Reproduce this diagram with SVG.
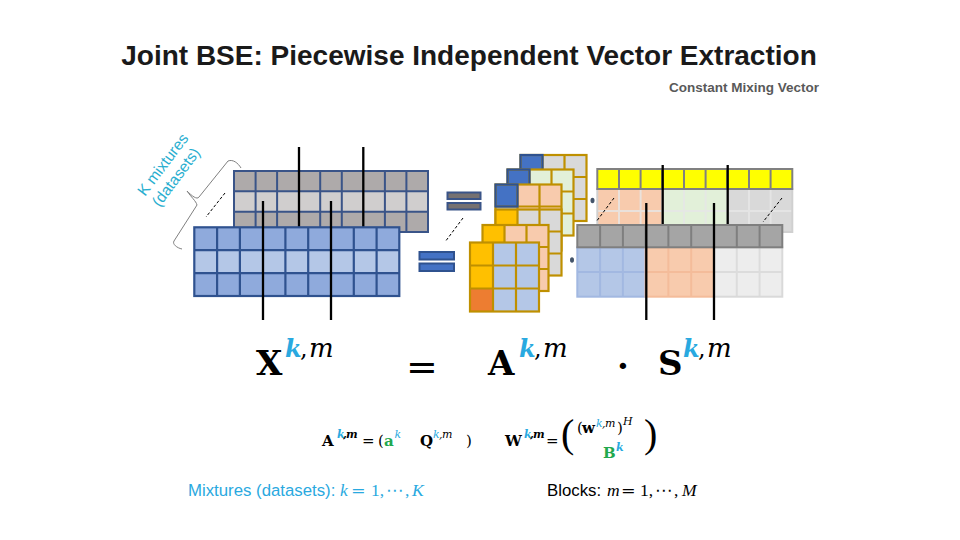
<svg xmlns="http://www.w3.org/2000/svg" xmlns:xlink="http://www.w3.org/1999/xlink" width="960" height="540" viewBox="0 0 960 540">
<defs>
<style>
.sans{font-family:"Liberation Sans",Arial,sans-serif}
.ser{font-family:"DejaVu Serif","Liberation Serif",serif}
.lser{font-family:"Liberation Serif","Times New Roman",serif}
.gold{fill:none;stroke:#BF9000;stroke-width:2.2}
.navy{fill:none;stroke:#3A5488;stroke-width:2}
.bnav{fill:none;stroke:#2F528F;stroke-width:2.2}
.pline{stroke:#000;stroke-width:2.3;fill:none}
.dash{stroke:#000;stroke-width:1;stroke-dasharray:3 2;fill:none}
.cy{fill:#29A9E0}
.gr{fill:#22A84E}
</style>
<g id="g3"><path d="M22,0V66M44,0V66M0,22H66M0,44H66" class="gold"/><rect width="66" height="66" class="gold"/></g>
<g id="g3f"><path d="M23,0V69M46,0V69M0,23H69M0,46H69" class="gold"/><rect width="69" height="69" class="gold"/></g>
</defs>
<rect width="960" height="540" fill="#fff"/>

<g id="title">
<text x="469" y="65" class="sans" font-size="28" font-weight="bold" fill="#1a1a1a" text-anchor="middle">Joint BSE: Piecewise Independent Vector Extraction</text>
<text x="819" y="92" class="sans" font-size="13.5" font-weight="bold" fill="#595959" text-anchor="end">Constant Mixing Vector</text>
</g>

<g id="k-label">
<path d="M241,168 C238,163 233,159 228,161 L199,197 C197,200 192,196 187,191 C191,197 196,201 197,205 L174,241 C172,244 177,248 182,249" fill="none" stroke="#808080" stroke-width="1"/>
<g transform="translate(145,197) rotate(-53)" class="sans" font-size="15.5" fill="#29AECF">
<text x="0" y="0">K mixtures</text>
<text x="0" y="18">(datasets)</text>
</g>
<path d="M225,193 L206,217" class="dash"/>
</g>

<g id="x-back">
<rect x="234" y="171" width="194" height="20.3" fill="#AEAAAA"/>
<rect x="234" y="191.3" width="194" height="20.4" fill="#D0CECE"/>
<rect x="234" y="211.7" width="194" height="20.3" fill="#AEAAAA"/>
<path d="M255.6,171V232M277.1,171V232M320.2,171V232M341.8,171V232M384.9,171V232M406.4,171V232M234,191.3H428M234,211.7H428" class="navy"/>
<rect x="234" y="171" width="194" height="61" class="navy"/>
</g>
<g id="x-back-lines">
<path d="M299,147V227M363.3,147V227" class="pline"/>
</g>

<g id="x-front">
<rect x="194.3" y="227.3" width="205" height="22.9" fill="#8FAADC"/>
<rect x="194.3" y="250.2" width="205" height="22.9" fill="#B4C7E7"/>
<rect x="194.3" y="273.1" width="205" height="22.9" fill="#8FAADC"/>
<path d="M217.1,227.3V296M239.9,227.3V296M285.4,227.3V296M308.2,227.3V296M353.8,227.3V296M376.6,227.3V296M194.3,250.2H399.3M194.3,273.1H399.3" class="bnav"/>
<rect x="194.3" y="227.3" width="205" height="68.7" class="bnav"/>
</g>
<g id="x-front-lines">
<path d="M263,201V320M331,201V320" class="pline"/>
</g>

<g id="eq-sign">
<rect x="447.5" y="192.5" width="33" height="6.5" fill="#767171" stroke="#3A5488" stroke-width="2"/>
<rect x="447.5" y="203" width="33" height="6.5" fill="#767171" stroke="#3A5488" stroke-width="2"/>
<path d="M463,218 L445,242" class="dash"/>
<rect x="419.5" y="252" width="34.5" height="7.5" fill="#4472C4" stroke="#2F528F" stroke-width="2"/>
<rect x="419.5" y="263.5" width="34.5" height="7.5" fill="#4472C4" stroke="#2F528F" stroke-width="2"/>
</g>

<g id="mix-a" transform="translate(520.5,155)">
<rect width="66" height="66" fill="#D9D9D9"/><rect width="22" height="22" fill="#4472C4"/><use xlink:href="#g3"/><rect width="22" height="22" class="bnav"/>
</g>
<g id="mix-b" transform="translate(507.5,169.5)">
<rect width="66" height="66" fill="#E2F0D9"/><rect width="22" height="22" fill="#4472C4"/><use xlink:href="#g3"/><rect width="22" height="22" class="bnav"/>
</g>
<g id="mix-c" transform="translate(495.5,184.5)">
<rect width="66" height="66" fill="#F8CBAD"/><rect y="22" width="22" height="44" fill="#B4C7E7"/><rect width="22" height="22" fill="#4472C4"/><use xlink:href="#g3"/><rect width="22" height="22" class="bnav"/>
</g>
<g id="mix-d" transform="translate(495.5,209.5)">
<rect width="66" height="66" fill="#D9D9D9"/><rect width="22" height="22" fill="#FFC000"/><use xlink:href="#g3"/>
</g>
<g id="mix-e" transform="translate(482.5,225)">
<rect width="66" height="66" fill="#F8CBAD"/><rect width="22" height="22" fill="#FFC000"/><use xlink:href="#g3"/>
</g>
<g id="mix-f" transform="translate(470,242.5)">
<rect width="69" height="69" fill="#B4C7E7"/><rect width="23" height="46" fill="#FFC000"/><rect y="46" width="23" height="23" fill="#ED7D31"/><use xlink:href="#g3f"/>
</g>

<g id="dots" fill="#44546A">
<ellipse cx="592.5" cy="200.5" rx="2" ry="2.8"/>
<ellipse cx="572" cy="260" rx="2" ry="2.8"/>
</g>

<g id="s-back">
<rect x="597.3" y="189" width="65" height="43" fill="#F8CBAD"/>
<rect x="662.3" y="189" width="65" height="43" fill="#E2F0D9"/>
<rect x="727.3" y="189" width="65" height="43" fill="#D9D9D9"/>
<path d="M619,189V232M640.6,189V232M662.3,189V232M684,189V232M705.6,189V232M727.3,189V232M749,189V232M770.6,189V232M597.3,211H792.3" stroke="#E6E6E6" stroke-width="2" fill="none" opacity="0.8"/>
<rect x="597.3" y="189" width="195" height="43" fill="none" stroke="#D0D0D0" stroke-width="2"/>
<rect x="597.3" y="169" width="195" height="20" fill="#FFFF00"/>
<path d="M619,169V189M640.6,169V189M662.3,169V189M684,169V189M705.6,169V189M727.3,169V189M749,169V189M770.6,169V189" stroke="#808080" stroke-width="2" fill="none"/>
<rect x="597.3" y="169" width="195" height="20" fill="none" stroke="#808080" stroke-width="2"/>
<path d="M614,198 L596,222M782,198 L763,222" class="dash"/>
</g>
<g id="s-back-lines">
<path d="M662.7,165V225M727.7,165V225" class="pline"/>
</g>

<g id="s-front">
<rect x="577.3" y="247.3" width="68.3" height="49.4" fill="#B4C7E7"/>
<rect x="645.6" y="247.3" width="68.4" height="49.4" fill="#F8CBAD"/>
<rect x="714" y="247.3" width="68.3" height="49.4" fill="#EDEDED"/>
<path d="M600.1,247.3V296.7M622.9,247.3V296.7M577.3,272H645.6" stroke="#A2B8E1" stroke-width="2" fill="none"/>
<path d="M668.4,247.3V296.7M691.2,247.3V296.7M645.6,272H714" stroke="#F4BC9A" stroke-width="2" fill="none"/>
<path d="M736.8,247.3V296.7M759.6,247.3V296.7M714,272H782.3" stroke="#DCDCDC" stroke-width="2" fill="none"/>
<rect x="577.3" y="247.3" width="68.3" height="49.4" fill="none" stroke="#A2B8E1" stroke-width="2"/>
<rect x="645.6" y="247.3" width="68.4" height="49.4" fill="none" stroke="#F4BC9A" stroke-width="2"/>
<rect x="714" y="247.3" width="68.3" height="49.4" fill="none" stroke="#D9D9D9" stroke-width="2"/>
<rect x="577.3" y="225" width="205" height="22.3" fill="#A5A5A5"/>
<path d="M600.1,225V247.3M622.9,225V247.3M645.6,225V247.3M668.4,225V247.3M691.2,225V247.3M714,225V247.3M736.8,225V247.3M759.6,225V247.3" stroke="#7F7F7F" stroke-width="2" fill="none"/>
<rect x="577.3" y="225" width="205" height="22.3" fill="none" stroke="#7F7F7F" stroke-width="2"/>
</g>
<g id="s-front-lines">
<path d="M646.3,203V320M714,203V320" class="pline"/>
</g>

<g id="equation" class="ser">
<text x="256" y="375" font-size="34" font-weight="bold">X</text>
<text y="357" font-size="24"><tspan x="285" class="cy" font-weight="bold" font-style="italic">k</tspan><tspan x="300">,</tspan><tspan x="309" font-style="italic" font-size="26">m</tspan></text>
<text x="406" y="380" font-size="38">=</text>
<text x="488" y="375" font-size="34" font-weight="bold">A</text>
<text y="357" font-size="24"><tspan x="519" class="cy" font-weight="bold" font-style="italic">k</tspan><tspan x="534">,</tspan><tspan x="543" font-style="italic" font-size="26">m</tspan></text>
<text x="623" y="378" font-size="34" font-weight="bold" text-anchor="middle">·</text>
<text x="658" y="375" font-size="34" font-weight="bold">S</text>
<text y="357" font-size="24"><tspan x="683" class="cy" font-weight="bold" font-style="italic">k</tspan><tspan x="698">,</tspan><tspan x="707" font-style="italic" font-size="26">m</tspan></text>
</g>

<g id="defs-a" class="ser">
<text x="322" y="446" font-size="15" font-weight="bold">A</text>
<text y="438" font-size="11" font-weight="bold" font-style="italic"><tspan x="337" class="cy">k</tspan><tspan x="343">,</tspan><tspan x="346">m</tspan></text>
<text x="362" y="446" font-size="15">=</text>
<text x="378" y="446" font-size="15">(</text>
<text x="384" y="446" font-size="15" font-weight="bold" class="gr">a</text>
<text x="394.5" y="438" font-size="11" font-style="italic" class="cy">k</text>
<text x="420" y="446" font-size="15" font-weight="bold">Q</text>
<text y="438" font-size="11" font-style="italic"><tspan x="433" class="cy">k</tspan><tspan x="439">,</tspan><tspan x="442">m</tspan></text>
<text x="466" y="446" font-size="15">)</text>
</g>

<g id="defs-w" class="ser">
<text x="505" y="446" font-size="15" font-weight="bold">W</text>
<text y="438" font-size="11" font-weight="bold" font-style="italic"><tspan x="524" class="cy">k</tspan><tspan x="530">,</tspan><tspan x="533">m</tspan></text>
<text x="546" y="446" font-size="15">=</text>
<text x="561" y="447" font-size="40" class="lser">(</text>
<text x="577" y="433" font-size="15">(</text>
<text x="582" y="433" font-size="15" font-weight="bold">w</text>
<text y="427" font-size="11" font-style="italic"><tspan x="596" class="cy">k</tspan><tspan x="602">,</tspan><tspan x="605">m</tspan></text>
<text x="617" y="433" font-size="15">)</text>
<text x="623" y="425" font-size="11" font-style="italic">H</text>
<text x="603" y="458" font-size="15" font-weight="bold" class="gr">B</text>
<text x="616" y="451" font-size="11" font-weight="bold" font-style="italic" class="cy">k</text>
<text x="644" y="447" font-size="40" class="lser">)</text>
</g>

<g id="ranges">
<text x="188" y="496" class="sans cy" font-size="16.8">Mixtures (datasets):</text>
<text y="496" font-size="17.5" class="lser cy"><tspan x="340" font-style="italic">k</tspan><tspan x="351" class="ser">=</tspan><tspan x="371">1,</tspan><tspan x="386" style="font-family:'DejaVu Sans',sans-serif">⋯</tspan><tspan x="405">,</tspan><tspan x="412" font-style="italic">K</tspan></text>
<text x="547" y="496" class="sans" font-size="16.8" fill="#000">Blocks:</text>
<text y="496" font-size="17.5" class="lser" fill="#000"><tspan x="607" font-style="italic">m</tspan><tspan x="621" class="ser">=</tspan><tspan x="640">1,</tspan><tspan x="655" style="font-family:'DejaVu Sans',sans-serif">⋯</tspan><tspan x="674">,</tspan><tspan x="682" font-style="italic">M</tspan></text>
</g>
</svg>
